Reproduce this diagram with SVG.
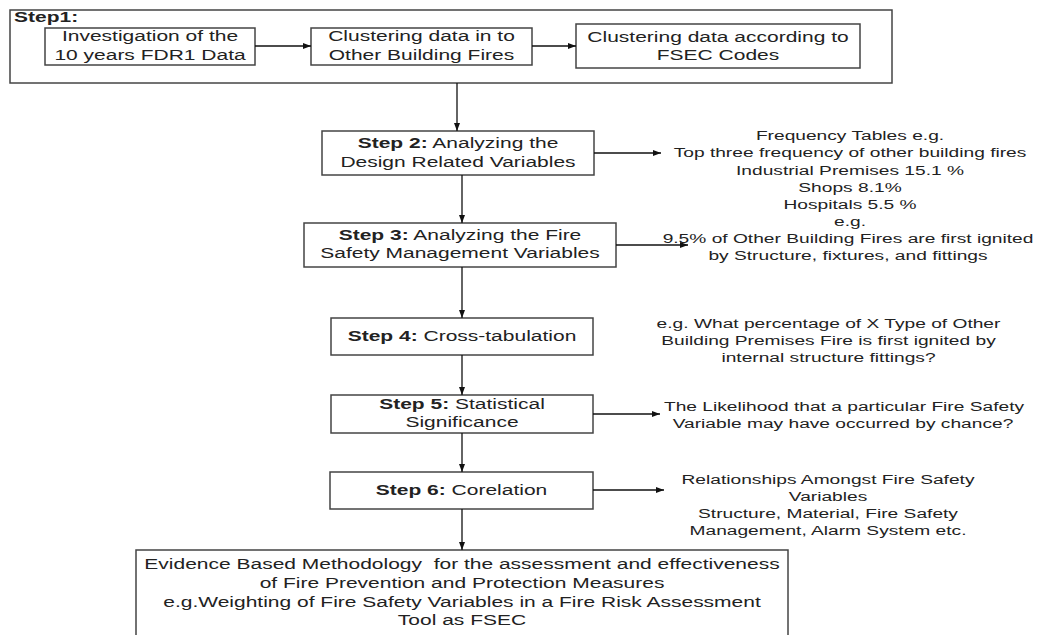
<svg xmlns="http://www.w3.org/2000/svg" width="1038" height="635" viewBox="0 0 1038 635">
<style>
.box{fill:#fff;stroke:#444;stroke-width:1.5}
.c{fill:none;stroke:#111;stroke-width:1.3}
.t{font-family:"Liberation Sans",Arial,sans-serif;font-size:15px;fill:#222;text-anchor:middle}
.a{font-family:"Liberation Sans",Arial,sans-serif;font-size:13.7px;fill:#222;text-anchor:middle}
.b{font-weight:bold}
.pre{white-space:pre}
</style>
<defs>
<marker id="ah" markerWidth="8" markerHeight="6" refX="8" refY="3" orient="auto" markerUnits="userSpaceOnUse">
<path d="M0,0 L8,3 L0,6 Z" fill="#111"/>
</marker>
</defs>
<rect width="1038" height="635" fill="#fff"/>

<g id="step1">
<rect class="box" x="10" y="10" width="882" height="73"/>
<text class="t b" transform="translate(14,22) scale(1.4,1)" style="text-anchor:start">Step1:</text>
</g>
<g id="n-investigation">
<rect class="box" x="45" y="28" width="210" height="37"/>
<text class="t" transform="translate(150,41) scale(1.4,1)">Investigation of the</text>
<text class="t" transform="translate(150,60) scale(1.4,1)">10 years FDR1 Data</text>
</g>
<g id="n-clustering1">
<rect class="box" x="311" y="28" width="221" height="37"/>
<text class="t" transform="translate(421.5,41) scale(1.4,1)">Clustering data in to</text>
<text class="t" transform="translate(421.5,60) scale(1.4,1)">Other Building Fires</text>
</g>
<g id="n-clustering2">
<rect class="box" x="576" y="24" width="284" height="44"/>
<text class="t" transform="translate(718,42) scale(1.4,1)">Clustering data according to</text>
<text class="t" transform="translate(718,60) scale(1.4,1)">FSEC Codes</text>
</g>

<g id="step2">
<rect class="box" x="322" y="131" width="272" height="44"/>
<text class="t" transform="translate(458,148) scale(1.4,1)"><tspan class="b">Step 2:</tspan> Analyzing the</text>
<text class="t" transform="translate(458,167) scale(1.4,1)">Design Related Variables</text>
</g>
<g id="step3">
<rect class="box" x="304" y="223" width="312" height="44"/>
<text class="t" transform="translate(460,240) scale(1.4,1)"><tspan class="b">Step 3:</tspan> Analyzing the Fire</text>
<text class="t" transform="translate(460,258) scale(1.4,1)">Safety Management Variables</text>
</g>
<g id="step4">
<rect class="box" x="331" y="318" width="262" height="37"/>
<text class="t" transform="translate(462,341) scale(1.4,1)"><tspan class="b">Step 4:</tspan> Cross-tabulation</text>
</g>
<g id="step5">
<rect class="box" x="331" y="395" width="262" height="38"/>
<text class="t" transform="translate(462,409) scale(1.4,1)"><tspan class="b">Step 5:</tspan> Statistical</text>
<text class="t" transform="translate(462,427) scale(1.4,1)">Significance</text>
</g>
<g id="step6">
<rect class="box" x="330" y="472" width="263" height="37"/>
<text class="t" transform="translate(461.5,495) scale(1.4,1)"><tspan class="b">Step 6:</tspan> Corelation</text>
</g>
<g id="result">
<rect class="box" x="136" y="550" width="652" height="100"/>
<text class="t pre" transform="translate(462,569) scale(1.4,1)">Evidence Based Methodology  for the assessment and effectiveness</text>
<text class="t" transform="translate(462,588) scale(1.4,1)">of Fire Prevention and Protection Measures</text>
<text class="t" transform="translate(462,607) scale(1.4,1)">e.g.Weighting of Fire Safety Variables in a Fire Risk Assessment</text>
<text class="t" transform="translate(462,625) scale(1.4,1)">Tool as FSEC</text>
</g>

<g id="note-frequency">
<text class="a" transform="translate(850,140) scale(1.4,1)">Frequency Tables e.g.</text>
<text class="a" transform="translate(850,157) scale(1.4,1)">Top three frequency of other building fires</text>
<text class="a" transform="translate(850,175) scale(1.4,1)">Industrial Premises 15.1 %</text>
<text class="a" transform="translate(850,192) scale(1.4,1)">Shops 8.1%</text>
<text class="a" transform="translate(850,209) scale(1.4,1)">Hospitals 5.5 %</text>
<text class="a" transform="translate(850,226) scale(1.4,1)">e.g.</text>
<text class="a" transform="translate(848,243) scale(1.4,1)">9.5% of Other Building Fires are first ignited</text>
<text class="a" transform="translate(848,260) scale(1.4,1)">by Structure, fixtures, and fittings</text>
</g>
<g id="note-crosstab">
<text class="a" transform="translate(828.5,328) scale(1.4,1)">e.g. What percentage of X Type of Other</text>
<text class="a" transform="translate(828.5,345) scale(1.4,1)">Building Premises Fire is first ignited by</text>
<text class="a" transform="translate(828.5,362) scale(1.4,1)">internal structure fittings?</text>
</g>
<g id="note-likelihood">
<text class="a" transform="translate(844,411) scale(1.4,1)">The Likelihood that a particular Fire Safety</text>
<text class="a" transform="translate(843,428) scale(1.4,1)">Variable may have occurred by chance?</text>
</g>
<g id="note-relationships">
<text class="a" transform="translate(828,484) scale(1.4,1)">Relationships Amongst Fire Safety</text>
<text class="a" transform="translate(828,501) scale(1.4,1)">Variables</text>
<text class="a" transform="translate(828,518) scale(1.4,1)">Structure, Material, Fire Safety</text>
<text class="a" transform="translate(828,535) scale(1.4,1)">Management, Alarm System etc.</text>
</g>

<g id="connectors">
<line class="c" x1="255" y1="46" x2="311" y2="46" marker-end="url(#ah)"/>
<line class="c" x1="532" y1="46" x2="576" y2="46" marker-end="url(#ah)"/>
<line class="c" x1="457" y1="83" x2="457" y2="131" marker-end="url(#ah)"/>
<line class="c" x1="462" y1="175" x2="462" y2="223" marker-end="url(#ah)"/>
<line class="c" x1="462" y1="267" x2="462" y2="318" marker-end="url(#ah)"/>
<line class="c" x1="462" y1="355" x2="462" y2="395" marker-end="url(#ah)"/>
<line class="c" x1="462" y1="433" x2="462" y2="472" marker-end="url(#ah)"/>
<line class="c" x1="462" y1="509" x2="462" y2="550" marker-end="url(#ah)"/>
<line class="c" x1="594" y1="153" x2="661" y2="153" marker-end="url(#ah)"/>
<line class="c" x1="616" y1="245" x2="688" y2="245" marker-end="url(#ah)"/>
<line class="c" x1="593" y1="414" x2="660" y2="414" marker-end="url(#ah)"/>
<line class="c" x1="593" y1="490" x2="664" y2="490" marker-end="url(#ah)"/>
</g>
</svg>
